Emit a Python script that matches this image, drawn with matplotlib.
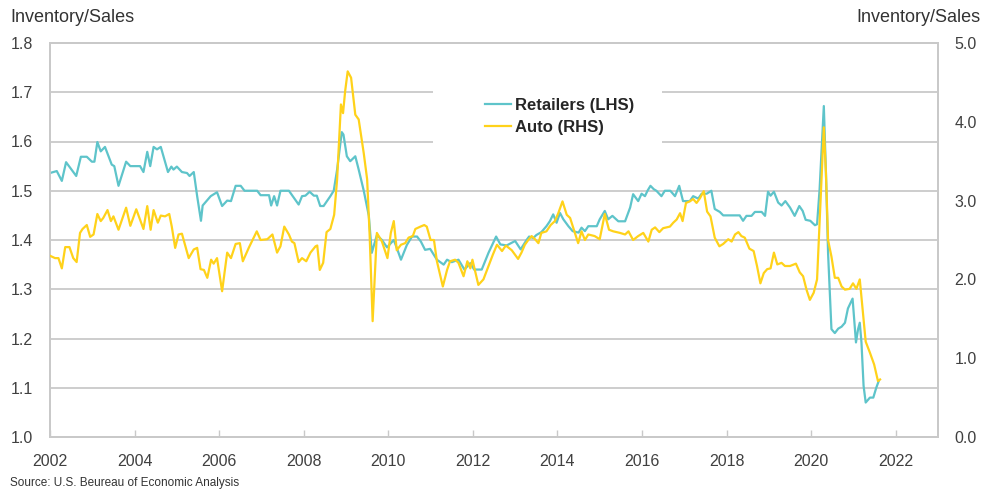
import matplotlib
matplotlib.use("Agg")
import matplotlib.pyplot as plt
from matplotlib.patches import Rectangle
from matplotlib.lines import Line2D

plt.rcParams['font.family'] = ['Liberation Sans Narrow', 'Liberation Sans', 'DejaVu Sans']

# Retailers inventory/sales ratio (left axis), decimal year positions
retail_t = [2002.00, 2002.16, 2002.28, 2002.38, 2002.62, 2002.73, 2002.87, 2002.99, 2003.05, 2003.12,
            2003.20, 2003.30, 2003.46, 2003.52, 2003.62, 2003.80, 2003.90, 2004.13, 2004.21, 2004.30,
            2004.37, 2004.45, 2004.53, 2004.62, 2004.79, 2004.87, 2004.92, 2005.00, 2005.12, 2005.24,
            2005.30, 2005.40, 2005.48, 2005.57, 2005.61, 2005.80, 2005.95, 2006.07, 2006.19, 2006.28,
            2006.39, 2006.51, 2006.60, 2006.90, 2006.98, 2007.18, 2007.23, 2007.30, 2007.37, 2007.45,
            2007.65, 2007.88, 2007.96, 2008.04, 2008.14, 2008.24, 2008.31, 2008.39, 2008.47, 2008.63,
            2008.71, 2008.79, 2008.90, 2008.94, 2009.02, 2009.10, 2009.22, 2009.30, 2009.42, 2009.54,
            2009.61, 2009.73, 2009.85, 2009.97, 2010.13, 2010.20, 2010.30, 2010.44, 2010.56, 2010.68,
            2010.77, 2010.87, 2010.99, 2011.15, 2011.31, 2011.39, 2011.50, 2011.66, 2011.80, 2011.94,
            2012.03, 2012.21, 2012.37, 2012.55, 2012.65, 2012.80, 2013.00, 2013.13, 2013.27, 2013.33,
            2013.43, 2013.50, 2013.62, 2013.74, 2013.82, 2013.90, 2013.98, 2014.06, 2014.14, 2014.26,
            2014.36, 2014.50, 2014.57, 2014.65, 2014.73, 2014.93, 2015.00, 2015.12, 2015.20, 2015.30,
            2015.44, 2015.60, 2015.72, 2015.79, 2015.91, 2015.99, 2016.07, 2016.13, 2016.20, 2016.28,
            2016.34, 2016.46, 2016.54, 2016.67, 2016.78, 2016.88, 2016.97, 2017.13, 2017.21, 2017.33,
            2017.41, 2017.53, 2017.64, 2017.72, 2017.84, 2017.92, 2018.31, 2018.39, 2018.47, 2018.59,
            2018.67, 2018.83, 2018.91, 2018.98, 2019.04, 2019.12, 2019.22, 2019.30, 2019.39, 2019.50,
            2019.61, 2019.72, 2019.80, 2019.87, 2019.98, 2020.09, 2020.14, 2020.20, 2020.30, 2020.35,
            2020.40, 2020.48, 2020.56, 2020.64, 2020.72, 2020.80, 2020.87, 2020.98, 2021.06, 2021.11,
            2021.15, 2021.19, 2021.24, 2021.29, 2021.39, 2021.47, 2021.54, 2021.60]
retail_v = [1.536, 1.540, 1.520, 1.558, 1.530, 1.569, 1.569, 1.559, 1.559, 1.599,
            1.580, 1.589, 1.553, 1.550, 1.510, 1.559, 1.550, 1.550, 1.538, 1.579,
            1.550, 1.589, 1.584, 1.589, 1.538, 1.549, 1.543, 1.549, 1.538, 1.536,
            1.530, 1.538, 1.489, 1.439, 1.470, 1.489, 1.497, 1.469, 1.480, 1.479,
            1.510, 1.510, 1.500, 1.500, 1.491, 1.491, 1.470, 1.489, 1.470, 1.500,
            1.500, 1.472, 1.489, 1.490, 1.498, 1.490, 1.490, 1.469, 1.469, 1.489,
            1.500, 1.543, 1.619, 1.614, 1.570, 1.560, 1.570, 1.543, 1.500, 1.449,
            1.374, 1.410, 1.400, 1.385, 1.400, 1.384, 1.360, 1.390, 1.407, 1.407,
            1.397, 1.380, 1.382, 1.360, 1.350, 1.360, 1.355, 1.360, 1.340, 1.353,
            1.340, 1.340, 1.374, 1.407, 1.391, 1.389, 1.398, 1.381, 1.400, 1.407,
            1.404, 1.410, 1.416, 1.428, 1.438, 1.452, 1.435, 1.455, 1.442, 1.428,
            1.418, 1.415, 1.425, 1.418, 1.428, 1.428, 1.442, 1.459, 1.442, 1.449,
            1.438, 1.438, 1.466, 1.493, 1.479, 1.494, 1.489, 1.500, 1.510, 1.503,
            1.500, 1.489, 1.500, 1.500, 1.489, 1.510, 1.479, 1.479, 1.489, 1.484,
            1.494, 1.494, 1.500, 1.463, 1.457, 1.450, 1.450, 1.439, 1.449, 1.449,
            1.457, 1.457, 1.449, 1.498, 1.490, 1.498, 1.476, 1.470, 1.479, 1.466,
            1.449, 1.469, 1.459, 1.441, 1.439, 1.430, 1.432, 1.503, 1.672, 1.536,
            1.374, 1.219, 1.211, 1.220, 1.224, 1.232, 1.261, 1.281, 1.192, 1.219,
            1.232, 1.192, 1.104, 1.070, 1.080, 1.080, 1.100, 1.114]

# Auto inventory/sales ratio (right axis)
auto_t = [2002.00, 2002.12, 2002.20, 2002.28, 2002.36, 2002.46, 2002.55, 2002.63, 2002.71, 2002.77,
          2002.87, 2002.95, 2003.03, 2003.12, 2003.20, 2003.26, 2003.36, 2003.44, 2003.50, 2003.62,
          2003.80, 2003.90, 2004.04, 2004.21, 2004.30, 2004.38, 2004.45, 2004.55, 2004.62, 2004.72,
          2004.82, 2004.88, 2004.96, 2005.04, 2005.12, 2005.28, 2005.40, 2005.48, 2005.56, 2005.64,
          2005.72, 2005.81, 2005.87, 2005.95, 2006.07, 2006.19, 2006.28, 2006.39, 2006.49, 2006.56,
          2006.70, 2006.89, 2006.98, 2007.14, 2007.26, 2007.37, 2007.45, 2007.54, 2007.65, 2007.72,
          2007.78, 2007.88, 2007.96, 2008.06, 2008.16, 2008.28, 2008.32, 2008.38, 2008.46, 2008.54,
          2008.63, 2008.72, 2008.79, 2008.88, 2008.93, 2008.98, 2009.04, 2009.12, 2009.22, 2009.30,
          2009.42, 2009.50, 2009.56, 2009.63, 2009.73, 2009.85, 2009.98, 2010.06, 2010.13, 2010.20,
          2010.30, 2010.40, 2010.48, 2010.58, 2010.64, 2010.76, 2010.85, 2010.91, 2011.00, 2011.08,
          2011.15, 2011.29, 2011.39, 2011.46, 2011.58, 2011.66, 2011.78, 2011.87, 2011.94, 2011.99,
          2012.13, 2012.25, 2012.37, 2012.47, 2012.57, 2012.69, 2012.78, 2012.92, 2013.07, 2013.15,
          2013.23, 2013.31, 2013.39, 2013.47, 2013.55, 2013.62, 2013.74, 2013.84, 2013.94, 2014.02,
          2014.12, 2014.22, 2014.30, 2014.39, 2014.49, 2014.57, 2014.65, 2014.73, 2014.88, 2015.00,
          2015.12, 2015.22, 2015.32, 2015.48, 2015.60, 2015.68, 2015.79, 2015.91, 2016.03, 2016.15,
          2016.23, 2016.31, 2016.41, 2016.50, 2016.66, 2016.74, 2016.82, 2016.90, 2016.96, 2017.04,
          2017.13, 2017.21, 2017.29, 2017.37, 2017.46, 2017.54, 2017.62, 2017.72, 2017.83, 2017.92,
          2018.04, 2018.12, 2018.20, 2018.28, 2018.35, 2018.43, 2018.54, 2018.64, 2018.72, 2018.80,
          2018.88, 2018.96, 2019.04, 2019.12, 2019.20, 2019.30, 2019.38, 2019.50, 2019.64, 2019.73,
          2019.81, 2019.89, 2019.97, 2020.06, 2020.14, 2020.20, 2020.30, 2020.35, 2020.40, 2020.48,
          2020.56, 2020.64, 2020.72, 2020.80, 2020.91, 2020.99, 2021.07, 2021.15, 2021.21, 2021.29,
          2021.39, 2021.49, 2021.58, 2021.63]
auto_v = [2.30, 2.27, 2.27, 2.14, 2.41, 2.41, 2.27, 2.22, 2.59, 2.64,
          2.69, 2.54, 2.57, 2.83, 2.74, 2.78, 2.88, 2.74, 2.80, 2.63,
          2.91, 2.68, 2.89, 2.64, 2.93, 2.63, 2.88, 2.72, 2.81, 2.80,
          2.83, 2.67, 2.40, 2.57, 2.58, 2.27, 2.38, 2.40, 2.13, 2.12,
          2.02, 2.25, 2.20, 2.27, 1.85, 2.34, 2.27, 2.45, 2.46, 2.23,
          2.40, 2.61, 2.50, 2.51, 2.57, 2.34, 2.42, 2.67, 2.57, 2.48,
          2.46, 2.22, 2.27, 2.23, 2.34, 2.42, 2.43, 2.12, 2.21, 2.60,
          2.64, 2.82, 3.27, 4.22, 4.11, 4.39, 4.64, 4.56, 4.09, 4.03,
          3.60, 3.27, 2.55, 1.47, 2.59, 2.48, 2.27, 2.59, 2.74, 2.37,
          2.44, 2.46, 2.53, 2.55, 2.64, 2.67, 2.69, 2.67, 2.50, 2.50,
          2.23, 1.91, 2.12, 2.23, 2.25, 2.21, 2.04, 2.23, 2.14, 2.25,
          1.93, 2.00, 2.17, 2.31, 2.44, 2.36, 2.43, 2.37, 2.26, 2.34,
          2.44, 2.50, 2.55, 2.51, 2.46, 2.59, 2.61, 2.69, 2.74, 2.84,
          2.99, 2.82, 2.78, 2.63, 2.46, 2.61, 2.50, 2.57, 2.55, 2.51,
          2.83, 2.63, 2.61, 2.59, 2.57, 2.61, 2.50, 2.55, 2.59, 2.48,
          2.63, 2.66, 2.60, 2.65, 2.67, 2.72, 2.76, 2.84, 2.74, 2.97,
          2.99, 3.02, 2.97, 3.03, 3.12, 2.86, 2.80, 2.53, 2.42, 2.45,
          2.51, 2.48, 2.57, 2.60, 2.55, 2.53, 2.39, 2.36, 2.17, 1.95,
          2.08, 2.13, 2.14, 2.34, 2.19, 2.21, 2.17, 2.17, 2.20, 2.09,
          2.04, 1.87, 1.74, 1.83, 2.00, 2.72, 3.93, 3.35, 2.50, 2.29,
          2.02, 2.02, 1.91, 1.87, 1.88, 1.95, 1.88, 2.00, 1.66, 1.21,
          1.07, 0.92, 0.71, 0.73]

year_ticks = list(range(2002, 2023, 2))
left_ticks = [1.0, 1.1, 1.2, 1.3, 1.4, 1.5, 1.6, 1.7, 1.8]
right_ticks = [0, 1, 2, 3, 4, 5]

teal = '#5ec4ca'
yellow = '#ffd21a'
grid_col = '#c9c9c9'
text_col = '#404040'

fig = plt.figure(figsize=(9.82, 4.91), dpi=100)
ax = fig.add_axes([50/982, 1-437/491, 888/982, 394/491])
ax2 = ax.twinx()

ax.set_xlim(2002, 2023)
ax.set_ylim(1.0, 1.8)
ax2.set_ylim(0, 5)

ax.set_yticks(left_ticks)
ax.set_yticklabels(['%.1f' % v for v in left_ticks])
ax2.set_yticks(right_ticks)
ax2.set_yticklabels(['%.1f' % v for v in right_ticks])
ax.set_xticks(year_ticks)
ax.set_xticklabels([str(y) for y in year_ticks])

ax.grid(axis='y', color=grid_col, linewidth=1.3, zorder=0)
ax.set_axisbelow(True)

for a in (ax, ax2):
    for s in a.spines.values():
        s.set_color(grid_col)
        s.set_linewidth(1.3)

ax.tick_params(axis='y', length=0, pad=12, labelsize=11.5, labelcolor=text_col)
ax2.tick_params(axis='y', length=0, pad=12, labelsize=11.5, labelcolor=text_col)
ax.tick_params(axis='x', direction='in', length=5, width=1, color=grid_col,
               pad=12, labelsize=11.5, labelcolor=text_col)

# white box behind the legend hides the gridlines
ax.add_patch(Rectangle((0.431, 0.744), 0.258, 0.137, transform=ax.transAxes,
                       facecolor='white', edgecolor='none', zorder=1))

ax.plot(retail_t, retail_v, color=teal, linewidth=1.6, zorder=3)
ax2.plot(auto_t, auto_v, color=yellow, linewidth=1.6, zorder=3)

handles = [Line2D([], [], color=teal, linewidth=1.6),
           Line2D([], [], color=yellow, linewidth=1.6)]
leg = ax2.legend(handles, ['Retailers (LHS)', 'Auto (RHS)'], loc='upper left',
                 bbox_to_anchor=((477-50)/888, 0.882), frameon=False, borderpad=0,
                 handlelength=1.55, handletextpad=0.25, labelspacing=0.45,
                 prop={'size': 12, 'weight': 'bold'})
for t in leg.get_texts():
    t.set_color('#262626')

fig.text(10/982, 1-18/491, 'Inventory/Sales', fontsize=13, color='#333333', va='center', ha='left')
fig.text(980/982, 1-18/491, 'Inventory/Sales', fontsize=13, color='#333333', va='center', ha='right')
fig.text(10/982, 1-483/491, 'Source: U.S. Beureau of Economic Analysis', fontsize=8.5,
         color='#333333', va='center', ha='left')

fig.savefig('out.png', dpi=100)
